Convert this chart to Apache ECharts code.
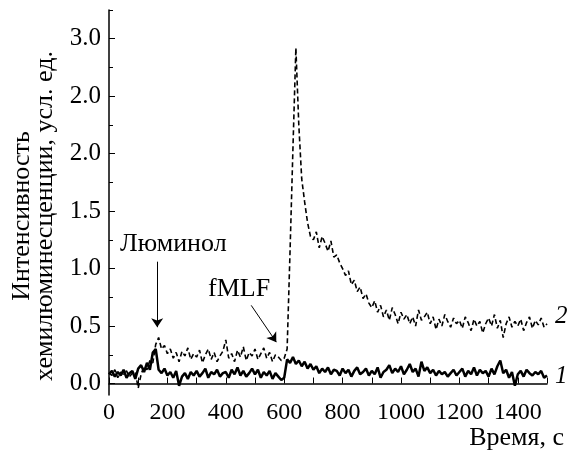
<!DOCTYPE html>
<html>
<head>
<meta charset="utf-8">
<script src="https://cdn.jsdelivr.net/npm/echarts@6/dist/echarts.min.js"></script>
<style>
  html, body { margin: 0; padding: 0; background: #fff; }
  #chart { width: 568px; height: 452px; }
</style>
</head>
<body>
<div id="chart"></div>
<script>
// время, с (шаг 10 с)
const times = [
  0, 10, 20, 30, 40, 50, 60, 70, 80, 90,
  100, 110, 120, 130, 140, 150, 160, 170, 180, 190,
  200, 210, 220, 230, 240, 250, 260, 270, 280, 290,
  300, 310, 320, 330, 340, 350, 360, 370, 380, 390,
  400, 410, 420, 430, 440, 450, 460, 470, 480, 490,
  500, 510, 520, 530, 540, 550, 560, 570, 580, 590,
  600, 610, 620, 630, 640, 650, 660, 670, 680, 690,
  700, 710, 720, 730, 740, 750, 760, 770, 780, 790,
  800, 810, 820, 830, 840, 850, 860, 870, 880, 890,
  900, 910, 920, 930, 940, 950, 960, 970, 980, 990,
  1000, 1010, 1020, 1030, 1040, 1050, 1060, 1070, 1080, 1090,
  1100, 1110, 1120, 1130, 1140, 1150, 1160, 1170, 1180, 1190,
  1200, 1210, 1220, 1230, 1240, 1250, 1260, 1270, 1280, 1290,
  1300, 1310, 1320, 1330, 1340, 1350, 1360, 1370, 1380, 1390,
  1400, 1410, 1420, 1430, 1440, 1450, 1460, 1470, 1480, 1490,
  1500
];

// кривая 1 (сплошная)
const curve1 = [
  0.08, 0.11, 0.06, 0.10, 0.07, 0.12, 0.05, 0.09, 0.11, 0.04,
  0.13, 0.16, 0.10, 0.18, 0.12, 0.27, 0.30, 0.12, 0.09, 0.13,
  0.07, 0.10, 0.05, 0.11, -0.02, 0.06, 0.09, 0.04, 0.10, 0.07,
  0.11, 0.06, 0.09, 0.13, 0.05, 0.10, 0.08, 0.12, 0.06, 0.09,
  0.10, 0.05, 0.12, 0.08, 0.14, 0.07, 0.11, 0.06, 0.09, 0.13,
  0.08, 0.12, 0.05, 0.10, 0.07, 0.11, 0.04, 0.09, 0.06, 0.03,
  0.05, 0.21, 0.18, 0.23, 0.17, 0.20, 0.15, 0.19, 0.13, 0.17,
  0.12, 0.15, 0.09, 0.13, 0.10, 0.14, 0.08, 0.12, 0.11, 0.07,
  0.13, 0.09, 0.12, 0.06, 0.11, 0.14, 0.08, 0.10, 0.13, 0.07,
  0.11, 0.08, 0.14, 0.05, 0.10, 0.12, 0.16, 0.09, 0.13, 0.10,
  0.15, 0.08, 0.12, 0.17, 0.10, 0.13, 0.06, 0.19, 0.11, 0.14,
  0.09, 0.12, 0.07, 0.11, 0.08, 0.10, 0.06, 0.09, 0.12, 0.07,
  0.10, 0.13, 0.06, 0.11, 0.08, 0.14, 0.07, 0.12, 0.09, 0.11,
  0.06, 0.13, 0.08, 0.15, 0.20, 0.09, 0.12, 0.05, 0.10, -0.02,
  0.08, 0.11, 0.06, 0.12, 0.09, 0.07, 0.10, 0.08, 0.11, 0.05,
  0.07
];

// кривая 2 (штриховая)
const curve2 = [
  0.09, 0.07, 0.12, 0.05, 0.10, 0.08, 0.11, 0.06, 0.09, 0.10,
  -0.04, 0.08, 0.15, 0.12, 0.20, 0.18, 0.34, 0.40, 0.30, 0.33,
  0.26, 0.30, 0.22, 0.27, 0.19, 0.28, 0.24, 0.31, 0.21, 0.26,
  0.23, 0.29, 0.18, 0.25, 0.30, 0.21, 0.27, 0.19, 0.24, 0.28,
  0.38, 0.22, 0.26, 0.19, 0.29, 0.23, 0.32, 0.20, 0.27, 0.24,
  0.30, 0.21, 0.26, 0.31, 0.22, 0.27, 0.19, 0.25, 0.23, 0.20,
  0.22, 0.30, 1.15, 2.05, 2.92, 2.25, 1.78, 1.58, 1.40, 1.28,
  1.25, 1.32, 1.18, 1.28, 1.22, 1.15, 1.24, 1.10, 1.12, 1.05,
  1.00, 0.94, 0.98, 0.86, 0.90, 0.80, 0.84, 0.74, 0.78, 0.70,
  0.66, 0.72, 0.62, 0.68, 0.58, 0.64, 0.55, 0.66, 0.60, 0.52,
  0.62, 0.56, 0.60, 0.52, 0.58, 0.50, 0.64, 0.55, 0.58, 0.62,
  0.52, 0.58, 0.47, 0.56, 0.50, 0.60, 0.54, 0.49, 0.57, 0.52,
  0.55, 0.48, 0.58, 0.53, 0.46, 0.56, 0.50, 0.54, 0.44, 0.52,
  0.57, 0.50, 0.60, 0.48, 0.55, 0.40, 0.52, 0.58, 0.49, 0.54,
  0.50, 0.56, 0.46, 0.53, 0.58, 0.48, 0.55, 0.51, 0.57, 0.49,
  0.52
];

// подписи оси Y (как на рисунке)
const yTickValues = [0, 0.5, 1.0, 1.5, 2.0, 2.5, 3.0];
const yTickLabels = ['0.0', '0.5', '1.0', '1.5', '2.0', '2.0', '3.0'];
const yMinorTicks = [0.25, 0.75, 1.25, 1.75, 2.25, 2.75, 3.25];

const FONT = 'Liberation Serif';

const chart = echarts.init(document.getElementById('chart'));

chart.setOption({
  backgroundColor: '#fff',
  animation: false,
  grid: { left: 109, right: 21, top: 10, bottom: 57 },
  xAxis: {
    type: 'value',
    min: 0,
    max: 1500,
    interval: 100,
    splitLine: { show: false },
    axisLine: { lineStyle: { color: '#000', width: 1.5 } },
    axisTick: { inside: true, length: 6, lineStyle: { color: '#000', width: 1 } },
    axisLabel: {
      color: '#000',
      fontFamily: FONT,
      fontSize: 24,
      margin: 6,
      formatter: (v) => (v % 200 === 0 ? String(v) : '')
    }
  },
  yAxis: [
    {
      type: 'value',
      min: -0.1,
      max: 3.25,
      splitLine: { show: false },
      axisLine: { show: true, lineStyle: { color: '#000', width: 1.5 } },
      axisTick: {
        show: true,
        inside: true,
        length: 6,
        customValues: yTickValues,
        lineStyle: { color: '#000', width: 1 }
      },
      axisLabel: {
        color: '#000',
        fontFamily: FONT,
        fontSize: 25,
        margin: 8,
        customValues: yTickValues,
        formatter: (v) => yTickLabels[Math.round(v * 2)]
      }
    },
    {
      type: 'value',
      position: 'left',
      min: -0.1,
      max: 3.25,
      splitLine: { show: false },
      axisLine: { show: false },
      axisLabel: { show: false },
      axisTick: {
        show: true,
        inside: true,
        length: 4,
        customValues: yMinorTicks,
        lineStyle: { color: '#000', width: 1 }
      }
    }
  ],
  series: [
    {
      name: '2',
      type: 'line',
      data: times.map((t, i) => [t, curve2[i]]),
      showSymbol: false,
      lineStyle: { color: '#000', width: 1.6, type: [5, 3] },
      silent: true
    },
    {
      name: '1',
      type: 'line',
      data: times.map((t, i) => [t, curve1[i]]),
      showSymbol: false,
      lineStyle: { color: '#000', width: 2.5 },
      silent: true,
      markLine: {
        silent: true,
        symbol: ['none', 'arrow'],
        symbolSize: 9,
        label: { show: false },
        lineStyle: { color: '#000', width: 1, type: 'solid' },
        data: [
          [{ coord: [165, 1.06] }, { coord: [165, 0.49] }],
          [{ coord: [487, 0.68] }, { coord: [573, 0.36] }]
        ]
      }
    }
  ],
  graphic: [
    {
      type: 'text',
      x: 22, y: 216,
      rotation: Math.PI / 2,
      style: {
        text: 'Интенсивность',
        font: '26px "Liberation Serif"',
        fill: '#000',
        align: 'center',
        verticalAlign: 'middle'
      }
    },
    {
      type: 'text',
      x: 45, y: 216,
      rotation: Math.PI / 2,
      style: {
        text: 'хемилюминесценции, усл. ед.',
        font: '26px "Liberation Serif"',
        fill: '#000',
        align: 'center',
        verticalAlign: 'middle'
      }
    },
    {
      type: 'text',
      x: 564, y: 438,
      style: {
        text: 'Время, с',
        font: '26px "Liberation Serif"',
        fill: '#000',
        align: 'right',
        verticalAlign: 'middle'
      }
    },
    {
      type: 'text',
      x: 120, y: 244,
      style: {
        text: 'Люминол',
        font: '26px "Liberation Serif"',
        fill: '#000',
        align: 'left',
        verticalAlign: 'middle'
      }
    },
    {
      type: 'text',
      x: 208, y: 289,
      style: {
        text: 'fMLF',
        font: '26px "Liberation Serif"',
        fill: '#000',
        align: 'left',
        verticalAlign: 'middle'
      }
    },
    {
      type: 'text',
      x: 555, y: 316,
      style: {
        text: '2',
        font: 'italic 25px "Liberation Serif"',
        fill: '#000',
        align: 'left',
        verticalAlign: 'middle'
      }
    },
    {
      type: 'text',
      x: 555, y: 376,
      style: {
        text: '1',
        font: 'italic 25px "Liberation Serif"',
        fill: '#000',
        align: 'left',
        verticalAlign: 'middle'
      }
    }
  ]
});
</script>
</body>
</html>
